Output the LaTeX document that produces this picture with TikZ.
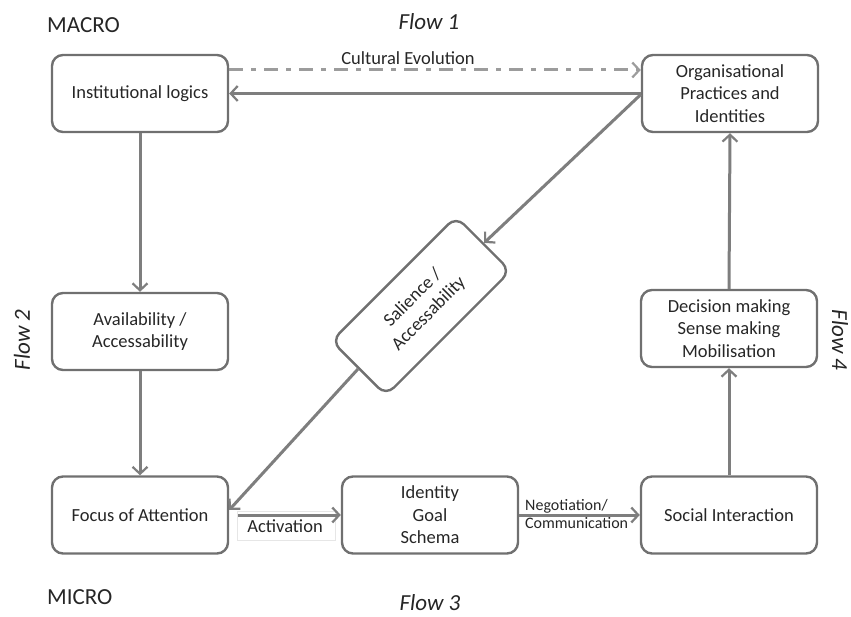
\documentclass[tikz,border=0pt]{standalone}
\usepackage{fontspec}
\setmainfont{Carlito}
\usetikzlibrary{arrows.meta}
\definecolor{ink}{HTML}{262626}
\definecolor{edge}{HTML}{707070}
\definecolor{wire}{HTML}{7E7E7E}
\definecolor{dashwire}{HTML}{9C9C9C}
\definecolor{faint}{HTML}{E6E6E6}

\begin{document}
\begin{tikzpicture}[x=1pt,y=1pt,
  box/.style={draw=edge, line width=2.4pt, rounded corners=11pt,
    minimum width=176pt, minimum height=77pt, align=center, text=ink,
    font=\fontsize{18.5}{22.5}\selectfont, inner sep=0pt},
  tip/.style={-{Straight Barb[length=7pt,width=15pt,line width=2.2pt]}},
  link/.style={draw=wire, line width=3pt, tip},
  tag/.style={text=ink, font=\fontsize{18.5}{22.5}\selectfont, inner sep=0pt},
  small/.style={text=ink, font=\fontsize{16}{18}\selectfont, inner sep=0pt, align=left},
  level/.style={text=ink, font=\fontsize{23}{26}\selectfont, inner sep=0pt},
  flowtag/.style={text=ink, font=\fontsize{23}{26}\selectfont\itshape, inner sep=0pt}
]
\useasboundingbox (0,0) rectangle (851,616);

% level and flow captions
\node[level, anchor=west] (macro) at (47,591) {MACRO};
\node[level, anchor=west] (micro) at (47,19) {MICRO};
\node[flowtag] (f1) at (429,594) {Flow 1};
\node[flowtag, rotate=90] (f2) at (22,276) {Flow 2};
\node[flowtag] (f3) at (430,13) {Flow 3};
\node[flowtag, rotate=-90] (f4) at (840,276) {Flow 4};

% boxes
\node[box] (inst) at (140,522.5) {Institutional logics};
\node[box] (org) at (730,522.5) {Organisational\\Practices and\\Identities};
\node[box] (avail) at (140,284.5) {Availability /\\Accessability};
\node[box] (dec) at (729,287.5) {Decision making\\Sense making\\Mobilisation};
\node[box] (focus) at (140,101) {Focus of Attention};
\node[box] (ident) at (430,101) {Identity\\Goal\\Schema};
\node[box] (social) at (729,101) {Social Interaction};
\node[box, rotate=45] (sal) at (421,310) {Salience /\\Accessability};

% top row
\draw[draw=dashwire, line width=3pt, tip, dash pattern=on 14pt off 8pt on 5pt off 8pt]
  ([yshift=23.5pt]inst.east) -- ([yshift=23.5pt]org.west);
\node[tag] (cult) at (408,558) {Cultural Evolution};
\draw[link] (org.west) -- (inst.east);

% left column
\draw[link] (inst.south) -- (avail.north);
\draw[link] (avail.south) -- (focus.north);

% diagonal through salience
\draw[link] ([yshift=-1pt]org.west) -- (sal.east);
\draw[link] (sal.west) -- ([yshift=5pt]focus.east);

% bottom row
\draw[faint, line width=0.8pt] (237,105) rectangle (335,76);
\draw[link] ([xshift=9pt]focus.east) -- (ident.west);
\node[tag] (act) at (285,90) {Activation};
\draw[link] (ident.east) -- (social.west);
\node[small, anchor=west] (neg) at (525,102) {Negotiation/\\Communication};

% right column
\draw[link] (social.north) -- (dec.south);
\draw[link] (dec.north) -- (org.south);
\end{tikzpicture}
\end{document}
